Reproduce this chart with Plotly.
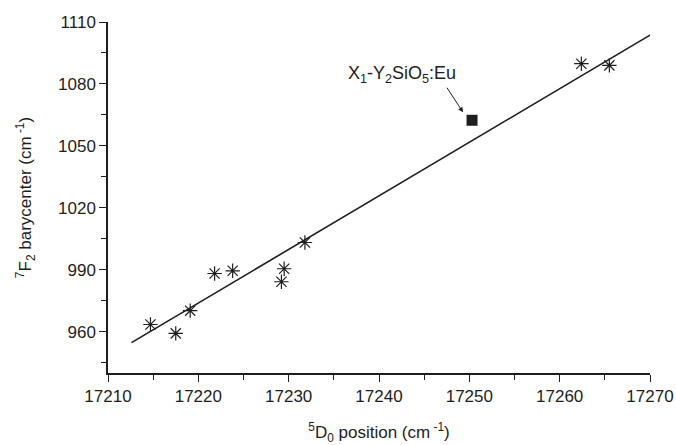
import plotly.graph_objects as go

# data
d0_pos = [17214.7, 17217.5, 17219.1, 17221.8, 17223.8, 17229.2, 17229.5, 17231.8, 17262.4, 17265.5]
f2_bary = [963.5, 959.2, 970.2, 988.2, 989.5, 984.2, 990.5, 1003.2, 1089.8, 1089.0]
yso_x = [17250.3]
yso_y = [1062.4]
fit_x = [17212.6, 17270.3]
fit_y = [954.7, 1104.4]
label_text = "X<sub>1</sub>-Y<sub>2</sub>SiO<sub>5</sub>:Eu"

FONT = "Liberation Sans, Arial, Helvetica, sans-serif"
INK = "#1e1e1e"

fig = go.Figure()
fig.add_trace(go.Scatter(x=fit_x, y=fit_y, mode="lines",
                         line=dict(color=INK, width=1.6), showlegend=False))
fig.add_trace(go.Scatter(x=d0_pos, y=f2_bary, mode="markers",
                         marker=dict(symbol="asterisk-open", size=12, color=INK,
                                     line=dict(color=INK, width=1.2)),
                         showlegend=False))
fig.add_trace(go.Scatter(x=yso_x, y=yso_y, mode="markers",
                         marker=dict(symbol="square", size=11, color=INK,
                                     line=dict(width=0)),
                         showlegend=False))

fig.add_annotation(x=17249.3, y=1066.3, ax=-17, ay=-26, text="",
                   showarrow=True, arrowhead=2, arrowsize=1, arrowwidth=1,
                   arrowcolor=INK, xref="x", yref="y")
fig.add_annotation(x=17242.6, y=1084.5, text=label_text, showarrow=False,
                   font=dict(family=FONT, size=18, color=INK),
                   xref="x", yref="y")

axis_common = dict(showgrid=False, zeroline=False, showline=True,
                   linecolor=INK, linewidth=1.5, ticks="outside",
                   ticklen=7, tickwidth=1.3, tickcolor=INK,
                   tickfont=dict(family=FONT, size=17, color=INK),
                   mirror=False, automargin=False)

fig.update_xaxes(range=[17210, 17270], tick0=17210, dtick=10, tickformat="d",
                 minor=dict(dtick=5, ticks="outside", ticklen=5,
                            tickwidth=1.3, tickcolor=INK),
                 title=dict(text="<sup>5</sup>D<sub>0</sub> position (cm<sup> -1</sup>)",
                            font=dict(family=FONT, size=17, color=INK),
                            standoff=24),
                 **axis_common)
fig.update_yaxes(range=[940, 1110], tickvals=[960, 990, 1020, 1050, 1080, 1110],
                 minor=dict(tickvals=[945, 975, 1005, 1035, 1065, 1095],
                            ticks="outside", ticklen=5,
                            tickwidth=1.3, tickcolor=INK),
                 title=dict(text="<sup>7</sup>F<sub>2</sub> barycenter (cm<sup> -1</sup>)",
                            font=dict(family=FONT, size=17, color=INK),
                            standoff=22),
                 **axis_common)

fig.update_layout(width=676, height=445,
                  margin=dict(l=108, r=26, t=22, b=72),
                  plot_bgcolor="white", paper_bgcolor="white",
                  showlegend=False)

fig.write_html("out.html")
